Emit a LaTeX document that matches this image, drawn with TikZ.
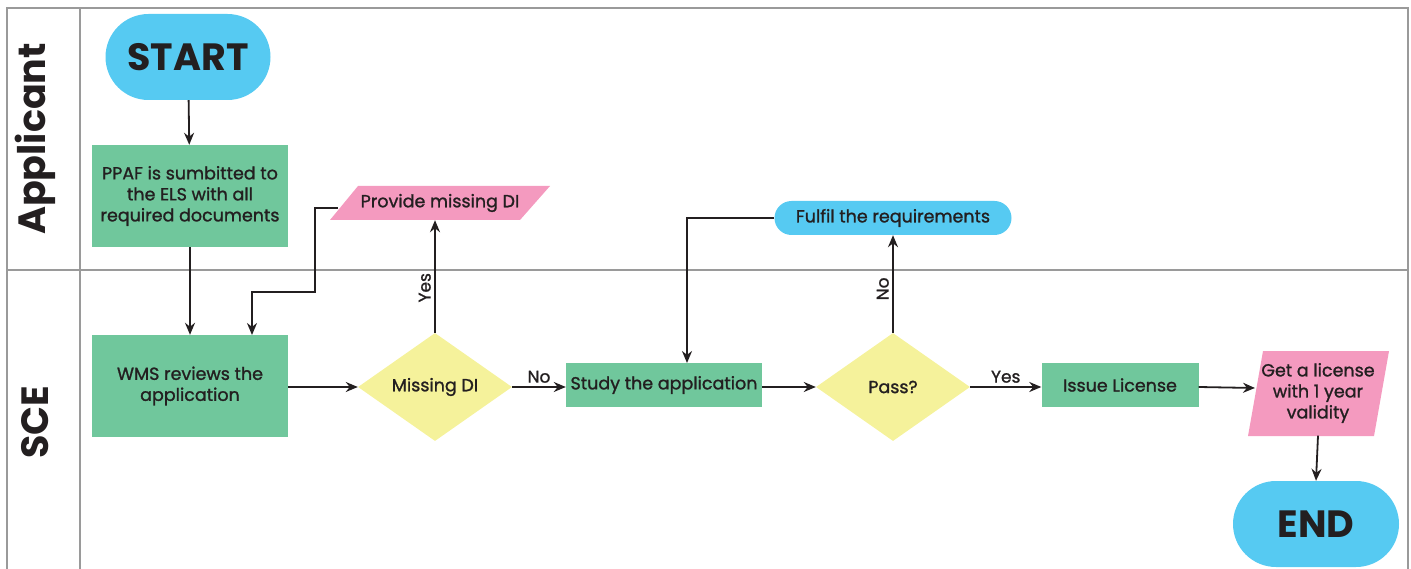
\documentclass[tikz,border=0pt]{standalone}
\usepackage{fontspec}
\setmainfont{Poppins}[UprightFeatures={RawFeature={embolden=1.2}}]
\usetikzlibrary{shapes.geometric,arrows.meta}
\definecolor{cblue}{HTML}{56CAF2}
\definecolor{cgreen}{HTML}{70C79C}
\definecolor{cpink}{HTML}{F49ABF}
\definecolor{cyellow}{HTML}{F5F29B}
\definecolor{ctext}{HTML}{231F20}
\definecolor{cgrid}{HTML}{9A9A9A}
\begin{document}
\begin{tikzpicture}[x=1pt,y=-1pt,
  txt/.style={text=ctext, font=\fontsize{17.5}{21}\selectfont},
  proc/.style={txt, fill=cgreen, inner sep=0pt, align=center},
  term/.style={fill=cblue, inner sep=0pt, align=center, text=ctext},
  dec/.style={txt, diamond, fill=cyellow, inner sep=0pt, minimum width=154pt, minimum height=108pt, aspect=1.43},
  ptext/.style={txt, inner sep=0pt, align=center},
  lane/.style={text=ctext, font=\bfseries\fontsize{38}{38}\selectfont, rotate=90},
  conn/.style={line width=1.8pt, draw=ctext, -{Stealth[length=12pt,width=10pt]}},
  lbl/.style={text=ctext, font=\fontsize{17}{18}\selectfont},
  grid/.style={draw=cgrid, line width=1.4pt}]
\useasboundingbox (0,0) rectangle (1411,569);
% frame
\draw[grid] (7,569) -- (7,8) -- (1408,8) -- (1408,569);
\draw[grid] (80,8) -- (80,569);
\draw[grid] (7,270) -- (1408,270);
\node[lane] (lapp) at (35,139) {Applicant};
\node[lane] (lsce) at (35,422) {SCE};
% parallelogram backgrounds
\fill[cpink] (330,220) -- (358,186) -- (550,186) -- (520,220) -- cycle;
\fill[cpink] (1248,436) -- (1263,351) -- (1389,351) -- (1374,436) -- cycle;
% nodes
\node[term, rounded corners=43pt, minimum width=165pt, minimum height=86pt, font=\bfseries\fontsize{38}{38}\selectfont] (start) at (188,57) {START};
\node[proc, minimum width=196pt, minimum height=102pt] (ppaf) at (190,196) {PPAF is sumbitted to\\the ELS with all\\required documents};
\node[proc, minimum width=196pt, minimum height=102pt] (wms) at (190,386) {WMS reviews the\\application};
\node[ptext, minimum width=180pt, minimum height=34pt] (pmd) at (440,203) {Provide missing DI};
\node[dec] (mdi) at (435,387) {Missing DI};
\node[proc, minimum width=196pt, minimum height=44pt] (study) at (664,385) {Study the application};
\node[term, txt, rounded corners=17pt, minimum width=237pt, minimum height=34pt] (ful) at (893,218) {Fulfil the requirements};
\node[dec] (pass) at (893,387) {Pass?};
\node[proc, minimum width=157pt, minimum height=44pt] (iss) at (1120,385) {Issue License};
\node[ptext, minimum width=126pt, minimum height=85pt] (get) at (1318,393) {Get a license\\with 1 year\\validity};
\node[term, rounded corners=43pt, minimum width=166pt, minimum height=86pt, font=\bfseries\fontsize{38}{38}\selectfont] (end) at (1316,524) {END};
% connectors
\draw[conn] (start) -- (ppaf);
\draw[conn] (ppaf) -- (wms);
\coordinate (pmdL) at (338,208);
\draw[conn] (pmdL) -- (315,208) -- (315,292) -- (252,292) -- (252,335);
\draw[conn] (wms.east |- mdi.west) -- (mdi.west);
\draw[conn] (mdi.north) -- node[lbl, rotate=90, above, pos=0.4] {Yes} (pmd.south -| mdi.north);
\draw[conn] (mdi.east) -- node[lbl, above] {No} (study.west |- mdi.east);
\draw[conn] (ful.west) -- (687,218) -- (687,363);
\draw[conn] (study.east |- pass.west) -- (pass.west);
\draw[conn] (pass.north) -- node[lbl, rotate=90, above, pos=0.45] {No} (pass.north |- ful.south);
\draw[conn] (pass.east) -- node[lbl, above] {Yes} (iss.west |- pass.east);
\draw[conn] (iss.east |- pass.east) -- (1255,388);
\draw[conn] (get.south) -- (end.north);
\end{tikzpicture}
\end{document}
